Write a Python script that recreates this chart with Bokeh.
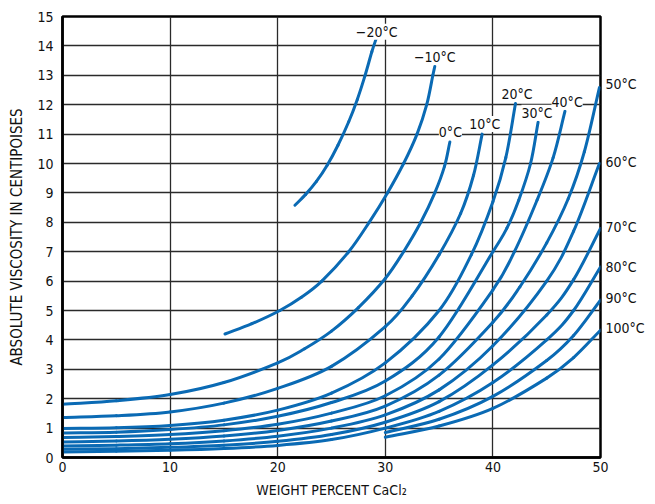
import numpy as np
from bokeh.plotting import figure
from bokeh.models import Range1d, Label, FixedTicker, LinearAxis
from bokeh.embed import file_html
from bokeh.resources import INLINE

FONT = "'Liberation Sans Narrow', 'DejaVu Sans Condensed', sans-serif"
BLUE = "#0a6ab4"

# ---- data (weight percent CaCl2 -> viscosity, cP) ----
temps_inside = ["−20°C", "−10°C", "0°C", "10°C", "20°C", "30°C", "40°C"]
temps_right = ["50°C", "60°C", "70°C", "80°C", "90°C", "100°C"]

x_m20 = [21.6, 22.6, 23.6, 24.6, 25.6, 26.6, 27.4, 28.1, 28.75, 29.2]
y_m20 = [8.58, 8.95, 9.39, 9.94, 10.62, 11.42, 12.18, 12.97, 13.8, 14.3]

x_m10 = [15.1, 17.6, 20.2, 22.2, 24.1, 26.6, 28.5, 30.2, 31.7, 32.95, 33.85, 34.42, 34.6]
y_m10 = [4.2, 4.55, 5.0, 5.45, 6.0, 7.0, 8.0, 9.0, 10.0, 11.0, 12.0, 13.0, 13.3]

x_0 = [0, 5, 10, 15, 20, 22.5, 25, 27.5, 30, 31.7, 33.3, 34.6, 35.5, 36.0]
y_0 = [1.81, 1.93, 2.14, 2.55, 3.22, 3.7, 4.3, 5.1, 6.09, 7.0, 8.0, 9.0, 9.9, 10.73]

x_10 = [0, 5, 10, 15, 20, 25, 30, 32.5, 35, 37, 38.2, 39.0]
y_10 = [1.36, 1.42, 1.55, 1.85, 2.35, 3.1, 4.45, 5.5, 6.9, 8.3, 9.6, 11.0]

x_20 = [0, 5, 10, 15, 20, 25, 30, 35, 38, 40, 41.2, 42.1]
y_20 = [0.99, 1.01, 1.09, 1.27, 1.61, 2.19, 3.22, 5.0, 6.9, 8.7, 10.2, 12.04]

x_30 = [0, 5, 10, 15, 20, 25, 30, 35, 40, 41.3, 42.4, 43.5, 44.2]
y_30 = [0.83, 0.86, 0.95, 1.11, 1.4, 1.87, 2.6, 4.1, 7.0, 7.8, 8.75, 10.0, 11.4]

x_40 = [0, 5, 10, 15, 20, 25, 30, 35, 40, 42, 44.1, 45.6, 46.7]
y_40 = [0.68, 0.715, 0.78, 0.91, 1.13, 1.51, 2.1, 3.35, 5.7, 7.0, 8.75, 10.2, 11.78]

x_50 = [0, 5, 10, 15, 20, 25, 30, 35, 40, 42.5, 45, 47, 48.5, 49.9]
y_50 = [0.53, 0.56, 0.62, 0.73, 0.92, 1.24, 1.75, 2.8, 4.6, 5.8, 7.3, 8.8, 10.4, 12.58]

x_60 = [0, 5, 10, 15, 20, 25, 30, 35, 40, 45, 47.5, 49.9]
y_60 = [0.39, 0.42, 0.47, 0.565, 0.725, 1.0, 1.45, 2.3, 3.8, 6.0, 7.7, 10.0]

x_70 = [0, 5, 10, 15, 20, 25, 30, 35, 40, 45, 47.5, 50]
y_70 = [0.28, 0.3, 0.345, 0.42, 0.55, 0.78, 1.2, 1.9, 3.15, 4.85, 6.05, 7.79]

x_80 = [0, 5, 10, 15, 20, 25, 30, 35, 40, 45, 47.5, 50]
y_80 = [0.19, 0.21, 0.244, 0.304, 0.41, 0.61, 1.0, 1.57, 2.55, 4.0, 5.0, 6.48]

x_90 = [30, 35, 40, 45, 47.5, 50]
y_90 = [0.85, 1.3, 2.08, 3.3, 4.15, 5.35]

x_100 = [30, 35, 40, 45, 47.5, 50]
y_100 = [0.69, 1.07, 1.67, 2.7, 3.4, 4.33]

curves = [(x_m20, y_m20), (x_m10, y_m10), (x_0, y_0), (x_10, y_10), (x_20, y_20),
          (x_30, y_30), (x_40, y_40), (x_50, y_50), (x_60, y_60), (x_70, y_70),
          (x_80, y_80), (x_90, y_90), (x_100, y_100)]

# label anchor positions (data units) for the labels inside the plot
label_x = [29.2, 34.6, 36.05, 39.25, 42.25, 44.1, 46.9]
label_y = [14.48, 13.62, 11.08, 11.34, 12.38, 11.73, 12.1]
# y positions of the labels to the right of the plot
right_label_y = [12.7, 10.05, 7.84, 6.48, 5.43, 4.42]

x_ticks = [0, 10, 20, 30, 40, 50]
y_ticks = list(range(0, 16))

p = figure(width=650, height=503, output_backend="svg", toolbar_location=None,
           x_range=Range1d(0, 50), y_range=Range1d(0, 15),
           min_border_left=62, min_border_right=50, min_border_top=16, min_border_bottom=46)

p.outline_line_color = "black"
p.outline_line_width = 2.5
p.background_fill_color = "white"
p.border_fill_color = "white"

for ax in (p.xaxis[0], p.yaxis[0]):
    ax.axis_line_color = "black"
    ax.axis_line_width = 2.5
    ax.major_tick_in = 0
    ax.major_tick_out = 0
    ax.minor_tick_line_color = None
    ax.major_label_text_font = FONT
    ax.major_label_text_font_size = "14px"
    ax.major_label_text_color = "#111"
    ax.axis_label_text_font = FONT
    ax.axis_label_text_font_style = "normal"
    ax.axis_label_text_color = "#111"

p.xaxis.axis_label_text_font_size = "14px"
p.yaxis.axis_label_text_font_size = "15px"
p.xaxis.ticker = FixedTicker(ticks=x_ticks)
p.yaxis.ticker = FixedTicker(ticks=y_ticks)
p.xaxis.major_label_standoff = 4
p.yaxis.major_label_standoff = 9
p.xaxis.axis_label = "WEIGHT PERCENT CaCl₂"
p.yaxis.axis_label = "ABSOLUTE VISCOSITY IN CENTIPOISES"
p.xaxis.axis_label_standoff = 7
p.yaxis.axis_label_standoff = 8

# right-hand temperature labels as a bare axis
r_axis = LinearAxis(ticker=FixedTicker(ticks=right_label_y),
                    major_label_overrides={v: t for v, t in zip(right_label_y, temps_right)},
                    axis_line_color=None, major_tick_in=0, major_tick_out=0,
                    minor_tick_line_color=None, major_label_standoff=5,
                    major_label_text_font=FONT, major_label_text_font_size="14px",
                    major_label_text_color="#111")
p.add_layout(r_axis, "right")

p.xgrid.ticker = FixedTicker(ticks=x_ticks[1:-1])
p.ygrid.ticker = FixedTicker(ticks=y_ticks[1:-1])
for g in (p.xgrid[0], p.ygrid[0]):
    g.grid_line_color = "#2a2a2a"
    g.grid_line_width = 1.3


def catmull_bezier(xs, ys):
    xs = np.asarray(xs, float)
    ys = np.asarray(ys, float)
    px = np.concatenate([[2 * xs[0] - xs[1]], xs, [2 * xs[-1] - xs[-2]]])
    py = np.concatenate([[2 * ys[0] - ys[1]], ys, [2 * ys[-1] - ys[-2]]])
    n = len(xs)
    out = dict(x0=[], y0=[], x1=[], y1=[], cx0=[], cy0=[], cx1=[], cy1=[])
    for i in range(1, n):
        out["x0"].append(px[i]); out["y0"].append(py[i])
        out["x1"].append(px[i + 1]); out["y1"].append(py[i + 1])
        out["cx0"].append(px[i] + (px[i + 1] - px[i - 1]) / 6)
        out["cy0"].append(py[i] + (py[i + 1] - py[i - 1]) / 6)
        out["cx1"].append(px[i + 1] - (px[i + 2] - px[i]) / 6)
        out["cy1"].append(py[i + 1] - (py[i + 2] - py[i]) / 6)
    return out


for xs, ys in curves:
    seg = catmull_bezier(xs, ys)
    p.bezier(line_color=BLUE, line_width=3.0, line_cap="round", **seg)

for name, lx, ly in zip(temps_inside, label_x, label_y):
    lab = Label(x=lx, y=ly, text=name, text_font=FONT, text_font_size="14px",
                text_color="#111", text_baseline="middle", text_align="center",
                background_fill_color="white")
    p.add_layout(lab)

open("out.html", "w").write(file_html(p, INLINE))
